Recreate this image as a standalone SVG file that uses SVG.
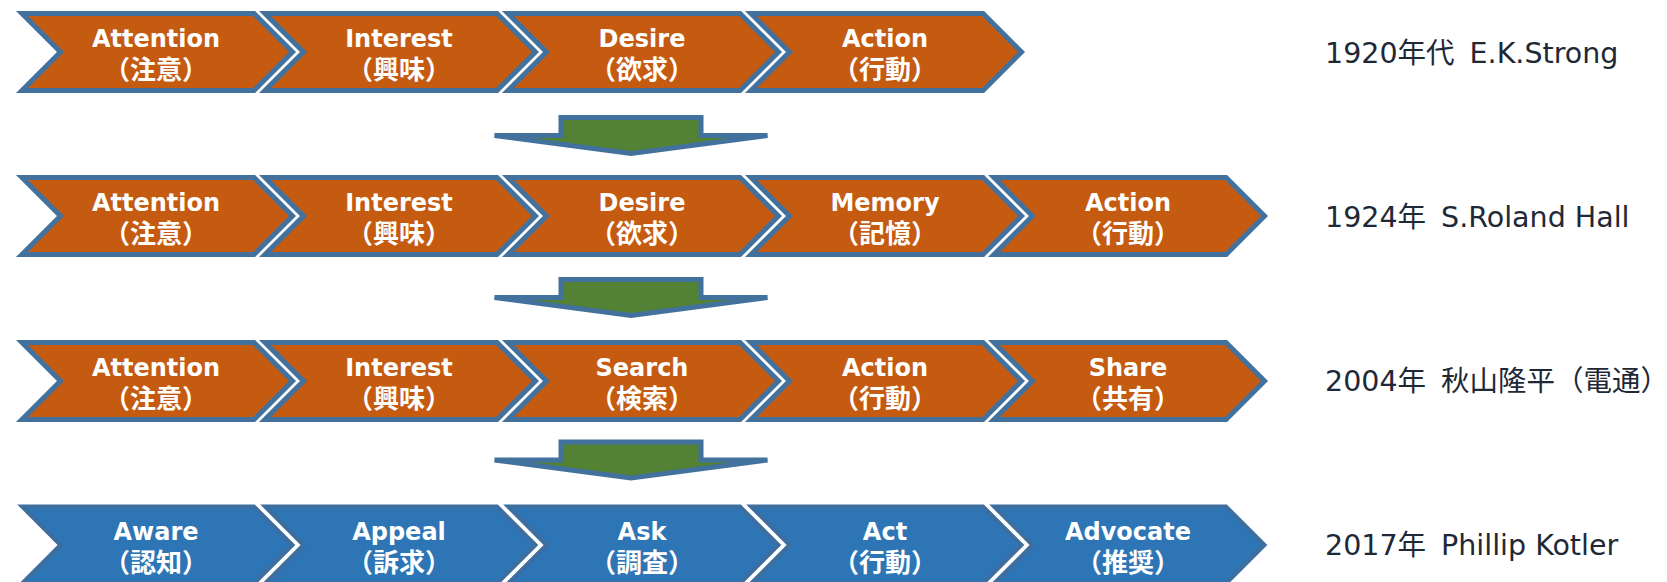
<svg xmlns="http://www.w3.org/2000/svg" xmlns:xlink="http://www.w3.org/1999/xlink" width="1667" height="582" viewBox="0 0 1667 582">
  <style>
    .orange { fill: #C55A11; stroke: #41719C; stroke-width: 5; }
    .blue { fill: #2E75B6; stroke: #3D6E9E; stroke-width: 4; }
    .step { fill: #548235; stroke: #41719C; stroke-width: 5; }
    .lbl { font-family: "DejaVu Sans", "Noto Sans CJK JP", sans-serif; font-weight: bold; font-size: 24px; fill: #FFFFFF; text-anchor: middle; }
    .sub { font-family: "Noto Sans CJK JP", sans-serif; font-weight: bold; font-size: 26px; fill: #FFFFFF; text-anchor: middle; }
    .era { font-family: "DejaVu Sans", "Noto Sans CJK JP", sans-serif; font-size: 28.5px; fill: #1E2836; white-space: pre; }
  </style>
  <defs>
    <!-- chevron outline relative to its outer left edge and vertical centre -->
    <path id="chev" d="M6,-38.5 H238 L276.5,0 L238,38.5 H6 L44.5,0 Z"/>
    <!-- flat down arrow relative to the shaft top -->
    <path id="down" d="M561,0 H701 V18 H767.5 L631,36 L494.5,18 H561 Z"/>
  </defs>

  <!-- row 1: AIDA -->
  <g id="r1-attention"><use xlink:href="#chev" x="16" y="52" class="orange"/><text class="lbl" x="156" y="47">Attention</text><text class="sub" x="156" y="79">（注意）</text></g>
  <g id="r1-interest"><use xlink:href="#chev" x="259" y="52" class="orange"/><text class="lbl" x="399" y="47">Interest</text><text class="sub" x="399" y="79">（興味）</text></g>
  <g id="r1-desire"><use xlink:href="#chev" x="502" y="52" class="orange"/><text class="lbl" x="642" y="47">Desire</text><text class="sub" x="642" y="79">（欲求）</text></g>
  <g id="r1-action"><use xlink:href="#chev" x="745" y="52" class="orange"/><text class="lbl" x="885" y="47">Action</text><text class="sub" x="885" y="79">（行動）</text></g>
  <g id="r1-label"><text class="era" x="1325" y="63">1920年代 <tspan dx="6">E.K.Strong</tspan></text></g>

  <!-- row 2: AIDMA -->
  <g id="r2-attention"><use xlink:href="#chev" x="16" y="216" class="orange"/><text class="lbl" x="156" y="211">Attention</text><text class="sub" x="156" y="243">（注意）</text></g>
  <g id="r2-interest"><use xlink:href="#chev" x="259" y="216" class="orange"/><text class="lbl" x="399" y="211">Interest</text><text class="sub" x="399" y="243">（興味）</text></g>
  <g id="r2-desire"><use xlink:href="#chev" x="502" y="216" class="orange"/><text class="lbl" x="642" y="211">Desire</text><text class="sub" x="642" y="243">（欲求）</text></g>
  <g id="r2-memory"><use xlink:href="#chev" x="745" y="216" class="orange"/><text class="lbl" x="885" y="211">Memory</text><text class="sub" x="885" y="243">（記憶）</text></g>
  <g id="r2-action"><use xlink:href="#chev" x="988" y="216" class="orange"/><text class="lbl" x="1128" y="211">Action</text><text class="sub" x="1128" y="243">（行動）</text></g>
  <g id="r2-label"><text class="era" x="1325" y="227">1924年 <tspan dx="6">S.Roland Hall</tspan></text></g>

  <!-- row 3: AISAS -->
  <g id="r3-attention"><use xlink:href="#chev" x="16" y="381" class="orange"/><text class="lbl" x="156" y="376">Attention</text><text class="sub" x="156" y="408">（注意）</text></g>
  <g id="r3-interest"><use xlink:href="#chev" x="259" y="381" class="orange"/><text class="lbl" x="399" y="376">Interest</text><text class="sub" x="399" y="408">（興味）</text></g>
  <g id="r3-search"><use xlink:href="#chev" x="502" y="381" class="orange"/><text class="lbl" x="642" y="376">Search</text><text class="sub" x="642" y="408">（検索）</text></g>
  <g id="r3-action"><use xlink:href="#chev" x="745" y="381" class="orange"/><text class="lbl" x="885" y="376">Action</text><text class="sub" x="885" y="408">（行動）</text></g>
  <g id="r3-share"><use xlink:href="#chev" x="988" y="381" class="orange"/><text class="lbl" x="1128" y="376">Share</text><text class="sub" x="1128" y="408">（共有）</text></g>
  <g id="r3-label"><text class="era" x="1325" y="391">2004年 <tspan dx="6">秋山隆平（電通）</tspan></text></g>

  <!-- row 4: 5A -->
  <g id="r4-aware"><use xlink:href="#chev" x="16" y="545" class="blue"/><text class="lbl" x="156" y="540">Aware</text><text class="sub" x="156" y="572">（認知）</text></g>
  <g id="r4-appeal"><use xlink:href="#chev" x="259" y="545" class="blue"/><text class="lbl" x="399" y="540">Appeal</text><text class="sub" x="399" y="572">（訴求）</text></g>
  <g id="r4-ask"><use xlink:href="#chev" x="502" y="545" class="blue"/><text class="lbl" x="642" y="540">Ask</text><text class="sub" x="642" y="572">（調査）</text></g>
  <g id="r4-act"><use xlink:href="#chev" x="745" y="545" class="blue"/><text class="lbl" x="885" y="540">Act</text><text class="sub" x="885" y="572">（行動）</text></g>
  <g id="r4-advocate"><use xlink:href="#chev" x="988" y="545" class="blue"/><text class="lbl" x="1128" y="540">Advocate</text><text class="sub" x="1128" y="572">（推奨）</text></g>
  <g id="r4-label"><text class="era" x="1325" y="555">2017年 <tspan dx="6">Phillip Kotler</tspan></text></g>

  <!-- transitions between models -->
  <g id="connectors">
    <use xlink:href="#down" x="0" y="117.5" class="step"/>
    <use xlink:href="#down" x="0" y="279.5" class="step"/>
    <use xlink:href="#down" x="0" y="442" class="step"/>
  </g>
</svg>
